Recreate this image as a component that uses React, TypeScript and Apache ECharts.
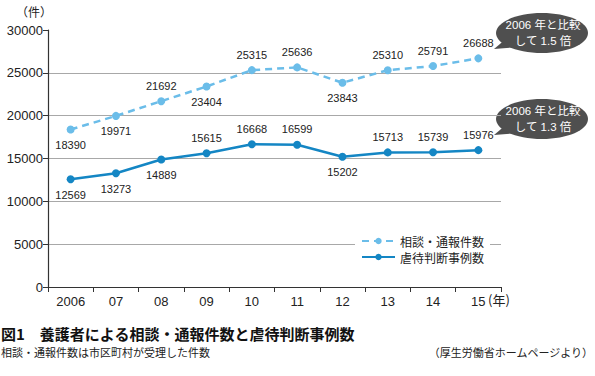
import React, { useEffect, useRef } from "react";
import * as echarts from "echarts";

const years = ["2006", "07", "08", "09", "10", "11", "12", "13", "14", "15"];
const consultations = [18390, 19971, 21692, 23404, 25315, 25636, 23843, 25310, 25791, 26688];
const abuseCases = [12569, 13273, 14889, 15615, 16668, 16599, 15202, 15713, 15739, 15976];
const consultLabelPos = ["bottom", "bottom", "top", "bottom", "top", "top", "bottom", "top", "top", "top"];
const abuseLabelPos = ["bottom", "bottom", "bottom", "top", "top", "top", "bottom", "top", "top", "top"];
const seriesNames = ["相談・通報件数", "虐待判断事例数"];

const LIGHT = "#6bbde9";
const DARK = "#1486c4";
const FONT = "'Liberation Sans', Arial, sans-serif";
const JP = "Noto Sans CJK JP";
const MIX = "'Liberation Sans', 'Noto Sans CJK JP', sans-serif";

export default function App() {
  const ref = useRef<HTMLDivElement>(null);
  useEffect(() => {
    if (!ref.current) return;
    const chart = echarts.init(ref.current, null, { renderer: "svg" });
    const bubble = (cy: number, line1: string, line2: string) => [
      {
        type: "polygon",
        shape: { points: [[507, cy + 5], [518, cy + 14], [494, cy + 16]] },
        style: { fill: "#4f4f4f" },
      },
      {
        type: "ellipse",
        shape: { cx: 542, cy, rx: 46, ry: 20 },
        style: { fill: "#4f4f4f" },
      },
      {
        type: "text",
        x: 543,
        y: cy - 8,
        style: {
          text: line1,
          fill: "#fff",
          fontFamily: MIX,
          fontSize: 11.5,
          align: "center",
          verticalAlign: "middle",
        },
      },
      {
        type: "text",
        x: 543,
        y: cy + 8,
        style: {
          text: line2,
          fill: "#fff",
          fontFamily: MIX,
          fontSize: 11.5,
          align: "center",
          verticalAlign: "middle",
        },
      },
    ];
    chart.setOption({
      animation: false,
      grid: { left: 48, right: 94, top: 30, bottom: 89 },
      legend: {
        orient: "vertical",
        left: 355,
        top: 233,
        itemWidth: 33,
        itemHeight: 8,
        itemGap: 4,
        backgroundColor: "#fff",
        padding: [2, 6, 2, 6],
        textStyle: { fontFamily: JP, fontSize: 12, color: "#222" },
        data: seriesNames,
      },
      xAxis: {
        type: "category",
        data: years,
        boundaryGap: true,
        axisLine: { lineStyle: { color: "#333", width: 1.2 } },
        axisTick: { show: true, length: 5, lineStyle: { color: "#333" } },
        axisLabel: { fontFamily: FONT, fontSize: 13, color: "#222", margin: 8 },
      },
      yAxis: {
        type: "value",
        min: 0,
        max: 30000,
        interval: 5000,
        axisLine: { show: true, lineStyle: { color: "#333", width: 1.2 } },
        axisTick: { show: true, length: 5, lineStyle: { color: "#333" } },
        axisLabel: {
          fontFamily: FONT,
          fontSize: 13,
          color: "#222",
          margin: 5,
          formatter: (v: number) => String(v),
        },
        splitLine: { show: true, showMaxLine: false, lineStyle: { color: "#a8a8a8", width: 1 } },
      },
      series: [
        {
          name: seriesNames[0],
          type: "line",
          data: consultations.map((v, i) => ({
            value: v,
            label: { position: consultLabelPos[i] },
          })),
          symbol: "circle",
          symbolSize: 8,
          lineStyle: { color: LIGHT, width: 2.5, type: [7, 5] },
          itemStyle: { color: LIGHT },
          label: { show: true, fontFamily: FONT, fontSize: 11, color: "#222", distance: 6 },
          z: 3,
        },
        {
          name: seriesNames[1],
          type: "line",
          data: abuseCases.map((v, i) => ({
            value: v,
            label: { position: abuseLabelPos[i] },
          })),
          symbol: "circle",
          symbolSize: 8,
          lineStyle: { color: DARK, width: 2.5 },
          itemStyle: { color: DARK },
          label: { show: true, fontFamily: FONT, fontSize: 11, color: "#222", distance: 6 },
          z: 3,
        },
      ],
      graphic: [
        {
          type: "text",
          x: 16,
          y: 5,
          style: { text: "（件）", fontFamily: JP, fontSize: 12, fill: "#222" },
        },
        {
          type: "text",
          x: 488,
          y: 293,
          style: { text: "(年)", fontFamily: JP, fontSize: 13, fill: "#222" },
        },
        ...bubble(33, "2006 年と比較", "して 1.5 倍"),
        ...bubble(119, "2006 年と比較", "して 1.3 倍"),
        {
          type: "text",
          x: 1,
          y: 326,
          style: {
            text: "図1　養護者による相談・通報件数と虐待判断事例数",
            fontFamily: JP,
            fontWeight: "bold",
            fontSize: 15,
            fill: "#111",
          },
        },
        {
          type: "text",
          x: 1,
          y: 346,
          style: { text: "相談・通報件数は市区町村が受理した件数", fontFamily: JP, fontSize: 11, fill: "#222" },
        },
        {
          type: "text",
          x: 593,
          y: 346,
          style: {
            text: "（厚生労働省ホームページより）",
            fontFamily: JP,
            fontSize: 11,
            fill: "#222",
            align: "right",
          },
        },
      ],
    });
    return () => chart.dispose();
  }, []);
  return (
    <div
      ref={ref}
      style={{ position: "absolute", left: 0, top: 0, width: 595, height: 376 }}
    />
  );
}
